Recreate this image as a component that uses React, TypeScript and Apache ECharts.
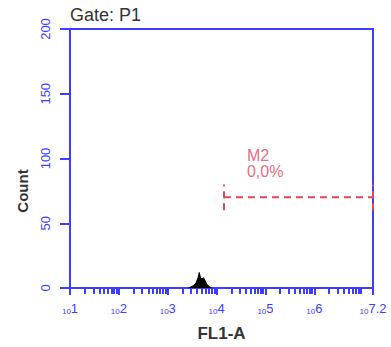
import React, { useEffect, useRef } from "react";
import * as echarts from "echarts";

// FL1-A histogram, decades shown as exponents of 10
const decadeExponents = [1, 2, 3, 4, 5, 6, 7.2];
const decadeLabels = ["1", "2", "3", "4", "5", "6", "7.2"];
const countTicks = [0, 50, 100, 150, 200];

// histogram channels (log10 of FL1-A) and event counts
const histExp = [3.42, 3.48, 3.53, 3.58, 3.62, 3.645, 3.67, 3.70, 3.73, 3.76, 3.80, 3.85, 3.90];
const histCount = [0, 1, 2, 4, 8, 12, 8, 7, 8, 6, 3, 1, 0];

// marker M2 range and its statistic
const markerName = "M2";
const markerPercent = "0,0%";
const markerFrom = 4.15;
const markerTo = 7.2;
const markerLevel = 70;

const BLUE = "#3d3dff";
const RED = "#e6425b";
const FONT = "'Liberation Sans', Arial, sans-serif";

// minor tick positions at 2..9 x 10^n
const minorTicks: number[] = [];
for (let n = 1; n < 8; n++) {
  for (let k = 2; k <= 9; k++) {
    const v = n + Math.log10(k);
    if (v < 7.2) minorTicks.push(v);
  }
}

export default function App() {
  const ref = useRef<HTMLDivElement>(null);

  useEffect(() => {
    if (!ref.current) return;
    const chart = echarts.init(ref.current, null, { renderer: "svg" });
    const histData = histExp.map((x, i) => [x, histCount[i]]);

    chart.setOption({
      animation: false,
      grid: {
        left: 70,
        top: 29,
        right: 18,
        bottom: 51,
        show: true,
        borderColor: BLUE,
        borderWidth: 2,
      },
      xAxis: [
        {
          type: "value",
          min: 1,
          max: 7.2,
          axisLine: { show: true, lineStyle: { color: BLUE, width: 2 } },
          splitLine: { show: false },
          axisTick: {
            show: true,
            length: 7,
            lineStyle: { color: BLUE, width: 2 },
            customValues: decadeExponents,
          },
          axisLabel: {
            margin: 14,
            customValues: decadeExponents,
            formatter: (v: number) => {
              const i = decadeExponents.findIndex((d) => Math.abs(d - v) < 1e-6);
              return `{b|10}{e|${i >= 0 ? decadeLabels[i] : ""}}`;
            },
            rich: {
              b: { fontSize: 8, color: BLUE, fontFamily: FONT, verticalAlign: "bottom" },
              e: { fontSize: 13, color: BLUE, fontFamily: FONT, verticalAlign: "bottom" },
            },
          },
          name: "FL1-A",
          nameLocation: "middle",
          nameGap: 37,
          nameTextStyle: { color: "#333", fontSize: 17, fontWeight: "bold", fontFamily: FONT },
        },
        {
          type: "value",
          min: 1,
          max: 7.2,
          position: "bottom",
          axisLine: { show: false },
          splitLine: { show: false },
          axisLabel: { show: false },
          axisTick: {
            show: true,
            length: 6,
            lineStyle: { color: BLUE, width: 2 },
            customValues: minorTicks,
          },
        },
      ],
      yAxis: {
        type: "value",
        min: 0,
        max: 200,
        interval: 50,
        axisLine: { show: true, lineStyle: { color: BLUE, width: 2 } },
        splitLine: { show: false },
        axisTick: { show: true, length: 10, lineStyle: { color: BLUE, width: 2 } },
        axisLabel: {
          rotate: 90,
          margin: 18,
          color: BLUE,
          fontSize: 13,
          fontFamily: FONT,
          customValues: countTicks,
        },
      },
      graphic: [
        {
          type: "text",
          left: 70,
          top: 6,
          style: { text: "Gate: P1", fill: "#333", font: `18px ${FONT}` },
        },
        {
          type: "text",
          x: 22,
          y: 191,
          rotation: Math.PI / 2,
          style: {
            text: "Count",
            fill: "#333",
            font: `bold 15px ${FONT}`,
            align: "center",
            verticalAlign: "middle",
          },
        },
      ],
      series: [
        {
          type: "line",
          data: histData,
          symbol: "none",
          lineStyle: { color: "#000", width: 1 },
          areaStyle: { color: "#000", opacity: 1 },
          z: 3,
        },
        {
          type: "line",
          data: [
            [markerFrom, markerLevel],
            [markerTo, markerLevel],
          ],
          symbol: "none",
          lineStyle: { color: RED, width: 2, type: [7, 5] },
          markLine: {
            silent: true,
            symbol: "none",
            label: { show: false },
            lineStyle: { color: RED, width: 2, type: [7, 5] },
            data: [
              [{ coord: [markerFrom, markerLevel - 10] }, { coord: [markerFrom, markerLevel + 10] }],
              [{ coord: [markerTo, markerLevel - 10] }, { coord: [markerTo, markerLevel + 10] }],
            ],
          },
          z: 4,
        },
        {
          type: "scatter",
          data: [[markerFrom + 0.47, markerLevel + 14]],
          symbolSize: 0,
          label: {
            show: true,
            position: "right",
            formatter: `${markerName}\n${markerPercent}`,
            color: RED,
            fontSize: 16,
            lineHeight: 16,
            fontFamily: FONT,
            align: "left",
            verticalAlign: "bottom",
            offset: [-5, 0],
          },
        },
      ],
    });

    return () => chart.dispose();
  }, []);

  return (
    <div
      ref={ref}
      style={{ position: "absolute", left: 0, top: 0, width: 391, height: 347 }}
    />
  );
}
